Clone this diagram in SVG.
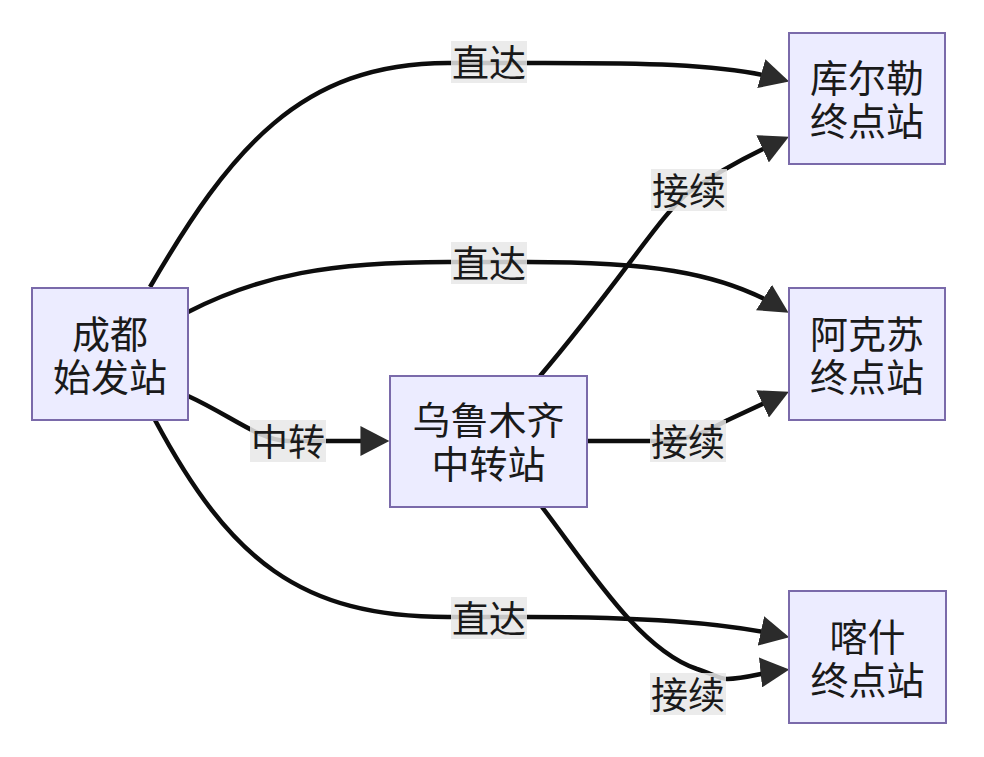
<svg xmlns="http://www.w3.org/2000/svg" width="984" height="757" viewBox="0 0 984 757">
<style>
.node rect{fill:#ECECFF;stroke:#7a6aaa;stroke-width:2}
.node text{font-family:"Liberation Sans","Noto Sans CJK SC",sans-serif;font-size:38px;fill:#1a1a1a;text-anchor:middle;dominant-baseline:central}
.edge{fill:none;stroke:#0d0d0d;stroke-width:4.5}
.lbl rect{fill:#e8e8e8;opacity:0.85}
.lbl text{font-family:"Liberation Sans","Noto Sans CJK SC",sans-serif;font-size:37px;fill:#1a1a1a;text-anchor:middle;dominant-baseline:central}
</style>
<defs>
<marker id="arr" markerUnits="userSpaceOnUse" markerWidth="30" markerHeight="30" refX="22" refY="14" orient="auto" viewBox="0 0 28 28">
<path d="M0,0 L27,14 L0,28 z" fill="#2b2b2b"/>
</marker>
</defs>
<rect width="984" height="757" fill="#ffffff"/>
<g id="connectors">
<path class="edge" marker-end="url(#arr)" d="M150,287 C230,150 300,63 448,63 L527,63 C620,63 720,62 784,80"/>
<path class="edge" marker-end="url(#arr)" d="M188,312 C260,275 330,262 448,262 L527,262 C640,262 720,270 784,310"/>
<path class="edge" marker-end="url(#arr)" d="M188,396 C230,415 260,441 288,441 L384,441"/>
<path class="edge" marker-end="url(#arr)" d="M155,420 C230,560 300,617 448,617 L527,617 C640,617 720,622 784,636"/>
<path class="edge" marker-end="url(#arr)" d="M540,376 C620,282 660,215 689,192 C720,170 760,150 784,139"/>
<path class="edge" marker-end="url(#arr)" d="M587,441 L655,441 C690,441 705,432 728,420 L784,394"/>
<path class="edge" marker-end="url(#arr)" d="M542,507 C590,570 640,650 697,669 C710,673 720,679 727,679 C745,679 765,672 784,670"/>
<g class="lbl"><rect x="451" y="41" width="76" height="42"/><text x="489" y="64">直达</text></g>
<g class="lbl"><rect x="451" y="242" width="76" height="42"/><text x="489" y="265">直达</text></g>
<g class="lbl"><rect x="250" y="420" width="76" height="42"/><text x="288" y="443">中转</text></g>
<g class="lbl"><rect x="451" y="597" width="76" height="42"/><text x="489" y="620">直达</text></g>
<g class="lbl"><rect x="651" y="169" width="76" height="42"/><text x="689" y="192">接续</text></g>
<g class="lbl"><rect x="650" y="420" width="76" height="42"/><text x="688" y="443">接续</text></g>
<g class="lbl"><rect x="650" y="673" width="76" height="42"/><text x="688" y="696">接续</text></g>
</g>
<g id="chengdu" class="node"><rect x="32" y="288" width="156" height="132"/><text x="110" y="335">成都<tspan x="110" y="378">始发站</tspan></text></g>
<g id="urumqi" class="node"><rect x="390" y="376" width="197" height="131"/><text x="488.5" y="421">乌鲁木齐<tspan x="488.5" y="465">中转站</tspan></text></g>
<g id="korla" class="node"><rect x="789" y="33" width="156" height="131"/><text x="867" y="79">库尔勒<tspan x="867" y="122">终点站</tspan></text></g>
<g id="aksu" class="node"><rect x="789" y="288" width="156" height="132"/><text x="867" y="335">阿克苏<tspan x="867" y="378">终点站</tspan></text></g>
<g id="kashgar" class="node"><rect x="789" y="591" width="157" height="132"/><text x="867.5" y="638">喀什<tspan x="867.5" y="681">终点站</tspan></text></g>
</svg>
